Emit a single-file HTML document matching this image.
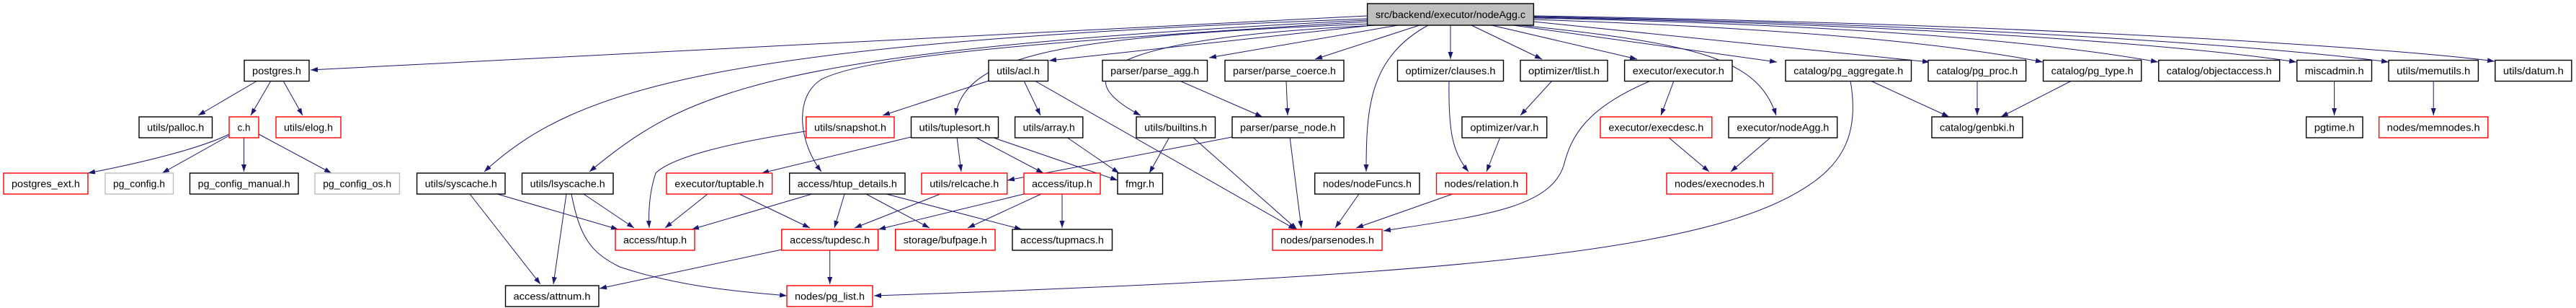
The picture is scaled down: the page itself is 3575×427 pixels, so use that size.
<!DOCTYPE html>
<html><head><meta charset="utf-8"><style>
html,body{margin:0;padding:0;background:#fff;}
svg{display:block;}
text{font-family:"Liberation Sans",sans-serif;font-size:14px;fill:#000;}
.b rect{fill:#fff;stroke:#000;stroke-width:1.4;}
.r rect{stroke:#f00;}
.g rect{stroke:#bfbfbf;}
path.e{fill:none;stroke:#191970;stroke-width:1;}
</style></head><body>
<svg width="3575" height="427" viewBox="0 0 3575 427" xmlns="http://www.w3.org/2000/svg">
<defs><marker id="a" markerWidth="10" markerHeight="8" refX="10" refY="3.5" orient="auto" markerUnits="userSpaceOnUse"><path d="M0,0 L10,3.5 L0,7 z" fill="#191970"/></marker></defs>
<g marker-end="url(#a)">
<path class="e" d="M1897,22 C1500,40 800,80 431,97"/>
<path class="e" d="M1897,26 C1000,60 800,120 672,238"/>
<path class="e" d="M1897,28 C1050,70 950,130 818,238"/>
<path class="e" d="M1897,30 C1400,60 1200,80 1140,110 C1100,135 1110,200 1140,238"/>
<path class="e" d="M1900,33 C1500,50 1340,70 1326,160"/>
<path class="e" d="M1905,35 L1456,84"/>
<path class="e" d="M1910,35 C1600,50 1450,90 1583,160"/>
<path class="e" d="M1940,35 L1678,80"/>
<path class="e" d="M1970,35 L1825,82"/>
<path class="e" d="M1982,35 C1900,80 1896,150 1896,238"/>
<path class="e" d="M2013,35 L2013,82"/>
<path class="e" d="M2042,35 L2140,82"/>
<path class="e" d="M2070,35 L2272,82"/>
<path class="e" d="M2100,35 L2466,86"/>
<path class="e" d="M2110,35 C2350,60 2440,80 2465,160"/>
<path class="e" d="M2128,30 L2678,86"/>
<path class="e" d="M2128,27 C2500,40 2700,60 2835,86"/>
<path class="e" d="M2128,25 C2600,35 2850,60 2995,86"/>
<path class="e" d="M2128,24 C2700,35 3050,65 3187,86"/>
<path class="e" d="M2128,23 C2800,35 3200,70 3315,86"/>
<path class="e" d="M2128,22 C2900,35 3350,70 3462,85"/>
<path class="e" d="M357,112 L275,160"/>
<path class="e" d="M376,112 L348,160"/>
<path class="e" d="M393,112 L420,160"/>
<path class="e" d="M318,186 C280,205 200,225 122,240"/>
<path class="e" d="M318,188 L225,240"/>
<path class="e" d="M338.5,190.5 L338.5,238"/>
<path class="e" d="M359,186 L460,240"/>
<path class="e" d="M690,269 L858,318"/>
<path class="e" d="M652,269 L750,394"/>
<path class="e" d="M810,269 L880,316"/>
<path class="e" d="M786,269 L768,394"/>
<path class="e" d="M793,269 C805,330 820,350 860,370 C950,400 1040,405 1092,410"/>
<path class="e" d="M1372,112 L1225,160"/>
<path class="e" d="M1421,112 L1444,160"/>
<path class="e" d="M1436,112 L1798,318"/>
<path class="e" d="M1118,182 C1000,200 930,220 910,240 C900,270 900,300 901,316"/>
<path class="e" d="M1264,190 L1057,240"/>
<path class="e" d="M1328,190 L1334,238"/>
<path class="e" d="M1353,190 L1448,240"/>
<path class="e" d="M1376,190 L1551,250"/>
<path class="e" d="M1480,190 L1553,240"/>
<path class="e" d="M1623,190 L1595,240"/>
<path class="e" d="M1655,190 L1800,318"/>
<path class="e" d="M1637,112 L1752,162"/>
<path class="e" d="M1785,112 L1787,160"/>
<path class="e" d="M1710,190 L1398,250"/>
<path class="e" d="M1790,190 L1806,316"/>
<path class="e" d="M982,269 L923,316"/>
<path class="e" d="M1026,269 L1124,316"/>
<path class="e" d="M1127,269 L960,318"/>
<path class="e" d="M1172,269 L1158,316"/>
<path class="e" d="M1202,269 L1290,316"/>
<path class="e" d="M1230,269 L1418,318"/>
<path class="e" d="M1305,269 L1186,316"/>
<path class="e" d="M1421,269 L1219,318"/>
<path class="e" d="M1445,269 L1343,316"/>
<path class="e" d="M1474,269 L1474,316"/>
<path class="e" d="M1085,346 L832,400"/>
<path class="e" d="M1151.7,347 L1151.7,394"/>
<path class="e" d="M2596,112 L2705,162"/>
<path class="e" d="M2568,112 C2580,180 2560,220 2520,250 C2400,340 2100,380 1213,410"/>
<path class="e" d="M2744,112 L2744,160"/>
<path class="e" d="M2875,112 L2777,162"/>
<path class="e" d="M2154,112 L2110,160"/>
<path class="e" d="M2082,190 L2063,238"/>
<path class="e" d="M2011,112 C2010,180 2015,210 2038,238"/>
<path class="e" d="M1886,269 L1853,316"/>
<path class="e" d="M2016,269 L1882,316"/>
<path class="e" d="M2291,112 C2200,150 2180,190 2170,230 C2150,290 2050,300 1920,320"/>
<path class="e" d="M2323,112 L2305,160"/>
<path class="e" d="M2315,190 L2372,238"/>
<path class="e" d="M2458,190 L2402,238"/>
<path class="e" d="M3239.6,112 L3239.6,160"/>
<path class="e" d="M3377.2,112 L3377.2,160"/>
</g>
<g class="b"><rect x="1897.6" y="5" width="230.8" height="30" style="fill:#bfbfbf"/><text x="2013" y="25" text-anchor="middle" textLength="208" lengthAdjust="spacingAndGlyphs">src/backend/executor/nodeAgg.c</text></g>
<g class="b"><rect x="339" y="83.5" width="90" height="29"/><text x="384" y="103" text-anchor="middle" textLength="68" lengthAdjust="spacingAndGlyphs">postgres.h</text></g>
<g class="b"><rect x="193" y="162" width="101.5" height="29"/><text x="243.7" y="181.5" text-anchor="middle" textLength="79" lengthAdjust="spacingAndGlyphs">utils/palloc.h</text></g>
<g class="b r"><rect x="318" y="162" width="41" height="29"/><text x="338.5" y="181.5" text-anchor="middle" textLength="18" lengthAdjust="spacingAndGlyphs">c.h</text></g>
<g class="b r"><rect x="383" y="162" width="90" height="29"/><text x="428" y="181.5" text-anchor="middle" textLength="68" lengthAdjust="spacingAndGlyphs">utils/elog.h</text></g>
<g class="b r"><rect x="5" y="240" width="117" height="29"/><text x="63.5" y="259.5" text-anchor="middle" textLength="95" lengthAdjust="spacingAndGlyphs">postgres_ext.h</text></g>
<g class="b g"><rect x="146" y="240" width="94.5" height="29"/><text x="193" y="259.5" text-anchor="middle" textLength="72" lengthAdjust="spacingAndGlyphs">pg_config.h</text></g>
<g class="b"><rect x="263.5" y="240" width="150.5" height="29"/><text x="338.7" y="259.5" text-anchor="middle" textLength="128" lengthAdjust="spacingAndGlyphs">pg_config_manual.h</text></g>
<g class="b g"><rect x="437" y="240" width="117.5" height="29"/><text x="495.7" y="259.5" text-anchor="middle" textLength="95" lengthAdjust="spacingAndGlyphs">pg_config_os.h</text></g>
<g class="b"><rect x="578.6" y="240" width="122.4" height="29"/><text x="639.8" y="259.5" text-anchor="middle" textLength="100" lengthAdjust="spacingAndGlyphs">utils/syscache.h</text></g>
<g class="b"><rect x="724.5" y="240" width="126.5" height="29"/><text x="787.7" y="259.5" text-anchor="middle" textLength="104" lengthAdjust="spacingAndGlyphs">utils/lsyscache.h</text></g>
<g class="b"><rect x="701.5" y="396" width="129.5" height="29"/><text x="766" y="415.5" text-anchor="middle" textLength="107" lengthAdjust="spacingAndGlyphs">access/attnum.h</text></g>
<g class="b r"><rect x="854" y="318" width="110" height="29"/><text x="909" y="337.5" text-anchor="middle" textLength="88" lengthAdjust="spacingAndGlyphs">access/htup.h</text></g>
<g class="b"><rect x="1372" y="83.5" width="82.5" height="29"/><text x="1413" y="103" text-anchor="middle" textLength="60" lengthAdjust="spacingAndGlyphs">utils/acl.h</text></g>
<g class="b"><rect x="1530" y="83.5" width="145.5" height="29"/><text x="1602.7" y="103" text-anchor="middle" textLength="123" lengthAdjust="spacingAndGlyphs">parser/parse_agg.h</text></g>
<g class="b"><rect x="1700" y="83.5" width="165" height="29"/><text x="1782.5" y="103" text-anchor="middle" textLength="143" lengthAdjust="spacingAndGlyphs">parser/parse_coerce.h</text></g>
<g class="b r"><rect x="1118.7" y="162" width="122.3" height="29"/><text x="1180" y="181.5" text-anchor="middle" textLength="100" lengthAdjust="spacingAndGlyphs">utils/snapshot.h</text></g>
<g class="b"><rect x="1264.5" y="162" width="121" height="29"/><text x="1325" y="181.5" text-anchor="middle" textLength="99" lengthAdjust="spacingAndGlyphs">utils/tuplesort.h</text></g>
<g class="b"><rect x="1408.6" y="162" width="94.2" height="29"/><text x="1455.7" y="181.5" text-anchor="middle" textLength="72" lengthAdjust="spacingAndGlyphs">utils/array.h</text></g>
<g class="b"><rect x="1577" y="162" width="109.5" height="29"/><text x="1631.7" y="181.5" text-anchor="middle" textLength="87" lengthAdjust="spacingAndGlyphs">utils/builtins.h</text></g>
<g class="b"><rect x="1710" y="162" width="155" height="29"/><text x="1787.5" y="181.5" text-anchor="middle" textLength="133" lengthAdjust="spacingAndGlyphs">parser/parse_node.h</text></g>
<g class="b r"><rect x="925" y="240" width="146.6" height="29"/><text x="998.3" y="259.5" text-anchor="middle" textLength="124" lengthAdjust="spacingAndGlyphs">executor/tuptable.h</text></g>
<g class="b"><rect x="1095.7" y="240" width="160.3" height="29"/><text x="1175.8" y="259.5" text-anchor="middle" textLength="138" lengthAdjust="spacingAndGlyphs">access/htup_details.h</text></g>
<g class="b r"><rect x="1279" y="240" width="118.7" height="29"/><text x="1338.3" y="259.5" text-anchor="middle" textLength="96" lengthAdjust="spacingAndGlyphs">utils/relcache.h</text></g>
<g class="b r"><rect x="1421" y="240" width="106" height="29"/><text x="1474" y="259.5" text-anchor="middle" textLength="84" lengthAdjust="spacingAndGlyphs">access/itup.h</text></g>
<g class="b"><rect x="1551" y="240" width="62.5" height="29"/><text x="1582" y="259.5" text-anchor="middle" textLength="40" lengthAdjust="spacingAndGlyphs">fmgr.h</text></g>
<g class="b r"><rect x="1084.8" y="318" width="133.8" height="29"/><text x="1151.7" y="337.5" text-anchor="middle" textLength="111" lengthAdjust="spacingAndGlyphs">access/tupdesc.h</text></g>
<g class="b r"><rect x="1242.7" y="318" width="138.3" height="29"/><text x="1311.8" y="337.5" text-anchor="middle" textLength="116" lengthAdjust="spacingAndGlyphs">storage/bufpage.h</text></g>
<g class="b"><rect x="1405" y="318" width="138.5" height="29"/><text x="1474" y="337.5" text-anchor="middle" textLength="116" lengthAdjust="spacingAndGlyphs">access/tupmacs.h</text></g>
<g class="b r"><rect x="1766" y="318" width="152" height="29"/><text x="1842" y="337.5" text-anchor="middle" textLength="130" lengthAdjust="spacingAndGlyphs">nodes/parsenodes.h</text></g>
<g class="b r"><rect x="1092" y="396" width="119" height="29"/><text x="1151.5" y="415.5" text-anchor="middle" textLength="97" lengthAdjust="spacingAndGlyphs">nodes/pg_list.h</text></g>
<g class="b"><rect x="1939.5" y="83.5" width="147" height="29"/><text x="2013" y="103" text-anchor="middle" textLength="125" lengthAdjust="spacingAndGlyphs">optimizer/clauses.h</text></g>
<g class="b"><rect x="2110" y="83.5" width="121" height="29"/><text x="2170.5" y="103" text-anchor="middle" textLength="99" lengthAdjust="spacingAndGlyphs">optimizer/tlist.h</text></g>
<g class="b"><rect x="2254.6" y="83.5" width="149.4" height="29"/><text x="2329.3" y="103" text-anchor="middle" textLength="127" lengthAdjust="spacingAndGlyphs">executor/executor.h</text></g>
<g class="b"><rect x="2478" y="83.5" width="174.5" height="29"/><text x="2565.3" y="103" text-anchor="middle" textLength="152" lengthAdjust="spacingAndGlyphs">catalog/pg_aggregate.h</text></g>
<g class="b"><rect x="2676" y="83.5" width="135.6" height="29"/><text x="2743.8" y="103" text-anchor="middle" textLength="113" lengthAdjust="spacingAndGlyphs">catalog/pg_proc.h</text></g>
<g class="b"><rect x="1824.7" y="240" width="145.3" height="29"/><text x="1897.4" y="259.5" text-anchor="middle" textLength="123" lengthAdjust="spacingAndGlyphs">nodes/nodeFuncs.h</text></g>
<g class="b"><rect x="2029" y="162" width="117.7" height="29"/><text x="2087.9" y="181.5" text-anchor="middle" textLength="95" lengthAdjust="spacingAndGlyphs">optimizer/var.h</text></g>
<g class="b r"><rect x="1993.5" y="240" width="125.1" height="29"/><text x="2056" y="259.5" text-anchor="middle" textLength="103" lengthAdjust="spacingAndGlyphs">nodes/relation.h</text></g>
<g class="b r"><rect x="2221" y="162" width="154.8" height="29"/><text x="2298.4" y="181.5" text-anchor="middle" textLength="132" lengthAdjust="spacingAndGlyphs">executor/execdesc.h</text></g>
<g class="b"><rect x="2399" y="162" width="150.7" height="29"/><text x="2474.4" y="181.5" text-anchor="middle" textLength="128" lengthAdjust="spacingAndGlyphs">executor/nodeAgg.h</text></g>
<g class="b r"><rect x="2313" y="240" width="147" height="29"/><text x="2386.5" y="259.5" text-anchor="middle" textLength="125" lengthAdjust="spacingAndGlyphs">nodes/execnodes.h</text></g>
<g class="b"><rect x="2681" y="162" width="126" height="29"/><text x="2744" y="181.5" text-anchor="middle" textLength="104" lengthAdjust="spacingAndGlyphs">catalog/genbki.h</text></g>
<g class="b"><rect x="2835.6" y="83.5" width="136.2" height="29"/><text x="2903.7" y="103" text-anchor="middle" textLength="114" lengthAdjust="spacingAndGlyphs">catalog/pg_type.h</text></g>
<g class="b"><rect x="2995.8" y="83.5" width="167.9" height="29"/><text x="3079.8" y="103" text-anchor="middle" textLength="146" lengthAdjust="spacingAndGlyphs">catalog/objectaccess.h</text></g>
<g class="b"><rect x="3187.7" y="83.5" width="103.8" height="29"/><text x="3239.6" y="103" text-anchor="middle" textLength="82" lengthAdjust="spacingAndGlyphs">miscadmin.h</text></g>
<g class="b"><rect x="3315" y="83.5" width="124.4" height="29"/><text x="3377.2" y="103" text-anchor="middle" textLength="102" lengthAdjust="spacingAndGlyphs">utils/memutils.h</text></g>
<g class="b"><rect x="3462.8" y="83.5" width="106.1" height="29"/><text x="3515.9" y="103" text-anchor="middle" textLength="84" lengthAdjust="spacingAndGlyphs">utils/datum.h</text></g>
<g class="b"><rect x="3200.6" y="162" width="78.4" height="29"/><text x="3239.8" y="181.5" text-anchor="middle" textLength="56" lengthAdjust="spacingAndGlyphs">pgtime.h</text></g>
<g class="b r"><rect x="3301.6" y="162" width="151.2" height="29"/><text x="3377.2" y="181.5" text-anchor="middle" textLength="129" lengthAdjust="spacingAndGlyphs">nodes/memnodes.h</text></g>
</svg>
</body></html>
